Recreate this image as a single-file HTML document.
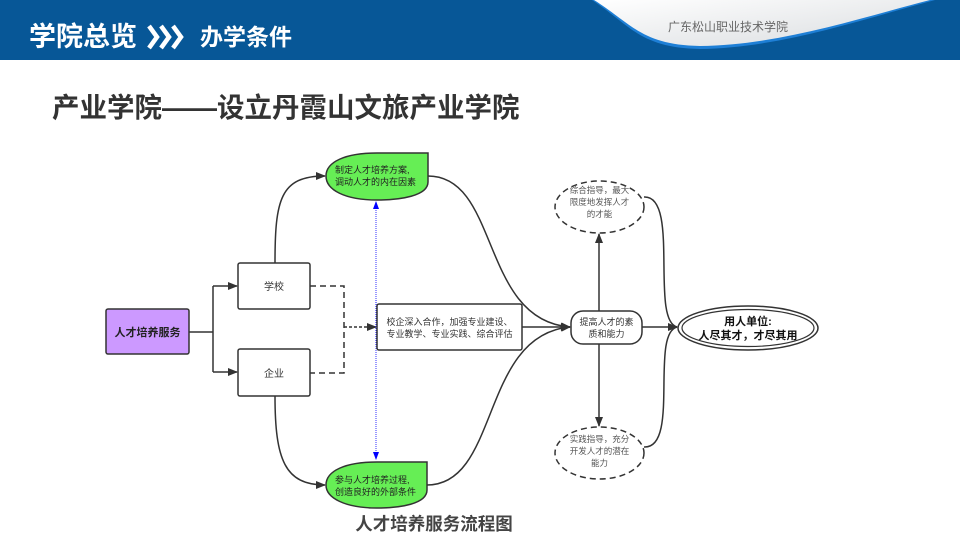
<!DOCTYPE html>
<html><head><meta charset="utf-8"><style>
body{margin:0;width:960px;height:540px;overflow:hidden;background:#fff;font-family:"Liberation Sans","Noto Sans CJK SC",sans-serif;}
svg{position:absolute;left:0;top:0}
</style></head><body>
<svg width="960" height="540" viewBox="0 0 960 540" xmlns="http://www.w3.org/2000/svg" font-family="Liberation Sans, Noto Sans CJK SC, sans-serif">
<defs>
<linearGradient id="wg" x1="0" y1="0" x2="1" y2="1"><stop offset="0" stop-color="#ffffff"/><stop offset="1" stop-color="#d9dcdf"/></linearGradient>
<marker id="ah" markerWidth="10" markerHeight="10" refX="9" refY="5" orient="auto" markerUnits="userSpaceOnUse"><path d="M0,1 L10,5 L0,9 z" fill="#333"/></marker>
<marker id="bh" markerWidth="8" markerHeight="8" refX="7" refY="4" orient="auto" markerUnits="userSpaceOnUse"><path d="M0,1 L8,4 L0,7 z" fill="#00f"/></marker>
</defs>
<rect x="0" y="0" width="960" height="60" fill="#075797"/>
<path d="M592,0 C630,25 640,48 700,49 C780,48 860,20 935,0 Z" fill="#1e7fd6"/>
<path d="M594,0 C632,24 642,45 700,46 C780,45 860,18 930,0 Z" fill="url(#wg)"/>
<text x="668" y="31" font-size="12" fill="#666">广东松山职业技术学院</text>
<text x="29" y="46" font-size="27" font-weight="bold" fill="#fff">学院总览</text>
<g fill="none" stroke="#fff" stroke-width="4.5">
<path d="M149,26 L157,37 L149,48"/><path d="M161,26 L169,37 L161,48"/><path d="M173,26 L181,37 L173,48"/>
</g>
<text x="200" y="45" font-size="23" font-weight="bold" fill="#fff">办学条件</text>
<text x="52" y="117" font-size="27.5" font-weight="bold" fill="#333">产业学院——设立丹霞山文旅产业学院</text>

<g fill="none" stroke="#333" stroke-width="1.5">
<path d="M189,332 H213 M213,286 V372"/>
<path d="M213,286 H237" marker-end="url(#ah)"/>
<path d="M213,372 H237" marker-end="url(#ah)"/>
<path d="M310,286 H344 V373 H310" stroke-dasharray="6,4"/>
<path d="M344,327 H376" stroke-dasharray="3,2" marker-end="url(#ah)"/>
<path d="M275,263 C275,200 280,176 325,176" marker-end="url(#ah)"/>
<path d="M275,396 C275,460 285,485 325,485" marker-end="url(#ah)"/>
<path d="M428,176 C500,176 480,320 570,327" marker-end="url(#ah)"/>
<path d="M427,485 C500,485 480,335 570,327" marker-end="url(#ah)"/>
<path d="M522,327 H570" marker-end="url(#ah)"/>
<path d="M599,311 V234" marker-end="url(#ah)"/>
<path d="M599,344 V426" marker-end="url(#ah)"/>
<path d="M642,327 H677" marker-end="url(#ah)"/>
<path d="M644,197 C680,195 650,320 677,327"/>
<path d="M644,447 C680,449 650,334 677,327"/>
</g>
<path d="M376,345 V202" stroke="#00f" stroke-width="0.8" fill="none" stroke-dasharray="1,1" marker-end="url(#bh)"/>
<path d="M376,300 V459" stroke="#00f" stroke-width="0.8" fill="none" stroke-dasharray="1,1" marker-end="url(#bh)"/>

<rect x="106" y="309" width="83" height="45" rx="2" fill="#cc99ff" stroke="#333" stroke-width="1.5"/>
<text x="147.5" y="336" font-size="11" font-weight="bold" text-anchor="middle" fill="#222">人才培养服务</text>
<rect x="238" y="263" width="72" height="46" rx="2" fill="#fff" stroke="#333" stroke-width="1.5"/>
<text x="274" y="290" font-size="10" text-anchor="middle" fill="#333">学校</text>
<rect x="238" y="349" width="72" height="47" rx="2" fill="#fff" stroke="#333" stroke-width="1.5"/>
<text x="274" y="377" font-size="10" text-anchor="middle" fill="#333">企业</text>

<path d="M428,153 V182 C428,196 400,200 377,200 C345,200 326,190 326,176 C326,162 345,153 377,153 Z" fill="#66ee55" stroke="#333" stroke-width="1.5"/>
<text x="335" y="173" font-size="9" fill="#222">制定人才培养方案,</text>
<text x="335" y="185" font-size="9" fill="#222">调动人才的内在因素</text>
<path d="M427,462 V490 C427,504 400,508 377,508 C345,508 326,498 326,485 C326,471 345,462 377,462 Z" fill="#66ee55" stroke="#333" stroke-width="1.5"/>
<text x="335" y="483" font-size="9" fill="#222">参与人才培养过程,</text>
<text x="335" y="495" font-size="9" fill="#222">创造良好的外部条件</text>

<rect x="377" y="304" width="145" height="46" rx="2" fill="#fff" stroke="#333" stroke-width="1.5"/>
<text x="449.5" y="325" font-size="9" text-anchor="middle" fill="#333">校企深入合作，加强专业建设、</text>
<text x="449.5" y="337" font-size="9" text-anchor="middle" fill="#333">专业教学、专业实践、综合评估</text>

<rect x="571" y="311" width="71" height="33" rx="12" fill="#fff" stroke="#333" stroke-width="1.5"/>
<text x="606.5" y="325" font-size="9" text-anchor="middle" fill="#333">提高人才的素</text>
<text x="606.5" y="337" font-size="9" text-anchor="middle" fill="#333">质和能力</text>

<ellipse cx="599.5" cy="207" rx="44.5" ry="26" fill="#fff" stroke="#333" stroke-width="1.5" stroke-dasharray="6,4"/>
<text x="599.5" y="193" font-size="8.5" text-anchor="middle" fill="#555">综合指导，最大</text>
<text x="599.5" y="205" font-size="8.5" text-anchor="middle" fill="#555">限度地发挥人才</text>
<text x="599.5" y="217" font-size="8.5" text-anchor="middle" fill="#555">的才能</text>
<ellipse cx="599.5" cy="453" rx="44.5" ry="26" fill="#fff" stroke="#333" stroke-width="1.5" stroke-dasharray="6,4"/>
<text x="599.5" y="442" font-size="8.5" text-anchor="middle" fill="#555">实践指导，充分</text>
<text x="599.5" y="454" font-size="8.5" text-anchor="middle" fill="#555">开发人才的潜在</text>
<text x="599.5" y="466" font-size="8.5" text-anchor="middle" fill="#555">能力</text>

<ellipse cx="748" cy="328" rx="70" ry="22" fill="#fff" stroke="#333" stroke-width="1.5"/>
<ellipse cx="748" cy="328" rx="66" ry="18.5" fill="none" stroke="#333" stroke-width="1.2"/>
<text x="748" y="325" font-size="11" font-weight="bold" text-anchor="middle" fill="#111">用人单位:</text>
<text x="748" y="339" font-size="11" font-weight="bold" text-anchor="middle" fill="#111">人尽其才，才尽其用</text>

<text x="434" y="530" font-size="17.5" font-weight="bold" text-anchor="middle" fill="#444">人才培养服务流程图</text>
</svg>
</body></html>
